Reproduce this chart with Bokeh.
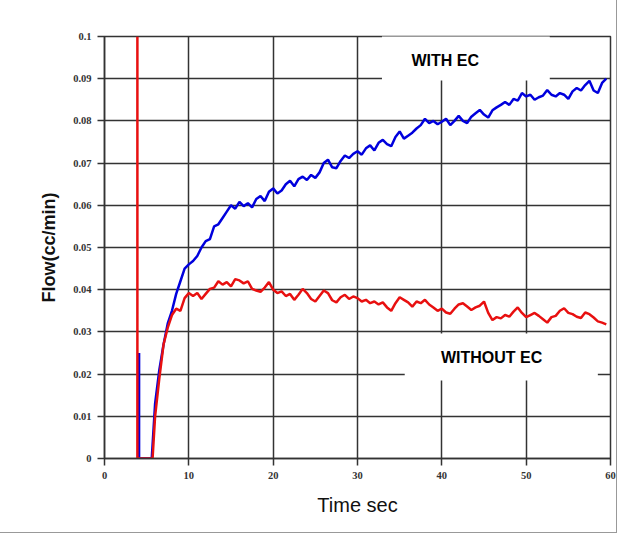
from bokeh.plotting import figure
from bokeh.models import FixedTicker, CustomJSTickFormatter, BoxAnnotation, Label
from bokeh.embed import file_html
from bokeh.resources import INLINE

# ---- data ----
x_ticks = [0, 10, 20, 30, 40, 50, 60]
y_ticks = [0, 0.01, 0.02, 0.03, 0.04, 0.05, 0.06, 0.07, 0.08, 0.09, 0.1]

times = [6.0, 6.5, 7.0, 7.5, 8.0, 8.5, 9.0, 9.5, 10.0, 10.5, 11.0, 11.5, 12.0, 12.5,
         13.0, 13.5, 14.0, 14.5, 15.0, 15.5, 16.0, 16.5, 17.0, 17.5, 18.0, 18.5,
         19.0, 19.5, 20.0, 20.5, 21.0, 21.5, 22.0, 22.5, 23.0, 23.5, 24.0, 24.5,
         25.0, 25.5, 26.0, 26.5, 27.0, 27.5, 28.0, 28.5, 29.0, 29.5, 30.0, 30.5,
         31.0, 31.5, 32.0, 32.5, 33.0, 33.5, 34.0, 34.5, 35.0, 35.5, 36.0, 36.5,
         37.0, 37.5, 38.0, 38.5, 39.0, 39.5, 40.0, 40.5, 41.0, 41.5, 42.0, 42.5,
         43.0, 43.5, 44.0, 44.5, 45.0, 45.5, 46.0, 46.5, 47.0, 47.5, 48.0, 48.5,
         49.0, 49.5, 50.0, 50.5, 51.0, 51.5, 52.0, 52.5, 53.0, 53.5, 54.0, 54.5,
         55.0, 55.5, 56.0, 56.5, 57.0, 57.5, 58.0, 58.5, 59.0, 59.5]

with_ec = [0.013, 0.021, 0.027, 0.032, 0.035, 0.039, 0.042, 0.045, 0.046, 0.0468,
           0.048, 0.050, 0.0515, 0.052, 0.055, 0.0555, 0.057, 0.0585, 0.060, 0.0592,
           0.0608, 0.0598, 0.0605, 0.0595, 0.0615, 0.0622, 0.0610, 0.0632, 0.0640, 0.0628,
           0.0635, 0.0650, 0.0658, 0.0645, 0.0662, 0.0668, 0.0660, 0.0672, 0.0665, 0.0678,
           0.0700, 0.0708, 0.0690, 0.0688, 0.0705, 0.0718, 0.0712, 0.0722, 0.0728, 0.0720,
           0.0735, 0.0742, 0.0730, 0.0748, 0.0755, 0.0745, 0.0740, 0.0762, 0.0775, 0.0758,
           0.0765, 0.0772, 0.0782, 0.0790, 0.0805, 0.0795, 0.0800, 0.0792, 0.0798, 0.0805,
           0.0790, 0.0800, 0.0812, 0.0800, 0.0795, 0.0810, 0.0818, 0.0826, 0.0815, 0.0808,
           0.0825, 0.0832, 0.0838, 0.0845, 0.0838, 0.0852, 0.0848, 0.0866, 0.0858, 0.0862,
           0.0850, 0.0856, 0.0860, 0.0873, 0.0862, 0.0858, 0.0866, 0.0862, 0.0852, 0.0870,
           0.0878, 0.0872, 0.0885, 0.0895, 0.0872, 0.0866, 0.0890, 0.0900]

without_ec = [0.010, 0.019, 0.027, 0.031, 0.034, 0.0355, 0.035, 0.038, 0.0392, 0.0385,
              0.0392, 0.0378, 0.0390, 0.0402, 0.0405, 0.0420, 0.0412, 0.0418, 0.0408, 0.0425,
              0.0422, 0.0415, 0.0420, 0.0402, 0.0398, 0.0395, 0.0405, 0.0418, 0.0400, 0.0392,
              0.0396, 0.0385, 0.0390, 0.0376, 0.0388, 0.0402, 0.0392, 0.0378, 0.0372, 0.0385,
              0.0398, 0.0392, 0.0375, 0.0370, 0.0382, 0.0388, 0.0378, 0.0384, 0.0380, 0.0372,
              0.0376, 0.0368, 0.0372, 0.0365, 0.0370, 0.0358, 0.0350, 0.0368, 0.0382, 0.0376,
              0.0370, 0.0360, 0.0372, 0.0368, 0.0376, 0.0365, 0.0358, 0.0350, 0.0355, 0.0346,
              0.0343, 0.0355, 0.0365, 0.0368, 0.0360, 0.0352, 0.0358, 0.0362, 0.0372, 0.0345,
              0.0328, 0.0335, 0.0332, 0.0340, 0.0336, 0.0348, 0.0358, 0.0345, 0.0335, 0.0340,
              0.0345, 0.0338, 0.0330, 0.0322, 0.0335, 0.0338, 0.0350, 0.0356, 0.0345, 0.0342,
              0.0336, 0.0333, 0.0346, 0.0342, 0.0334, 0.0325, 0.0322, 0.0318]

# start-up transients before the main traces
blue_start_t = [4.1, 4.1, 5.6]
blue_start_y = [0.025, 0.0, 0.0]
red_start_t = [3.9, 3.9, 5.7]
red_start_y = [0.1, 0.0, 0.0]

assert len(times) == len(with_ec) == len(without_ec)

p = figure(width=616, height=532, x_range=(0, 60), y_range=(0, 0.1),
           output_backend="svg", toolbar_location=None,
           min_border_left=104, min_border_right=6, min_border_top=36, min_border_bottom=74)
p.styles = {"outline": "1px solid #999"}
p.background_fill_color = "white"
p.border_fill_color = "white"
p.outline_line_color = "#333333"
p.outline_line_width = 1.5

grid_col = "#333333"
p.xgrid.ticker = FixedTicker(ticks=x_ticks)
p.ygrid.ticker = FixedTicker(ticks=y_ticks)
for g in (p.xgrid, p.ygrid):
    g.grid_line_color = grid_col
    g.grid_line_width = 1.5
    g.grid_line_alpha = 1.0

p.xaxis.ticker = FixedTicker(ticks=x_ticks)
p.yaxis.ticker = FixedTicker(ticks=y_ticks)
p.yaxis.formatter = CustomJSTickFormatter(code="return String(Math.round(tick*100)/100);")
for ax in (p.xaxis, p.yaxis):
    ax.axis_line_color = grid_col
    ax.axis_line_width = 1.5
    ax.major_tick_line_color = grid_col
    ax.major_tick_line_width = 1.5
    ax.major_tick_out = 7
    ax.major_tick_in = 0
    ax.minor_tick_line_color = None
    ax.major_label_text_font = "Liberation Serif"
    ax.major_label_text_font_size = "10.5px"
    ax.major_label_text_color = "#333333"
    ax.major_label_text_font_style = "bold"

p.yaxis.axis_label = "Flow(cc/min)"
p.yaxis.axis_label_text_font = "Liberation Sans"
p.yaxis.axis_label_text_font_size = "18px"
p.yaxis.axis_label_text_font_style = "bold"
p.yaxis.axis_label_text_color = "#111111"
p.yaxis.axis_label_standoff = 11
p.yaxis.major_label_standoff = 6

p.xaxis.axis_label = "Time sec"
p.xaxis.axis_label_text_font = "Liberation Sans"
p.xaxis.axis_label_text_font_size = "20px"
p.xaxis.axis_label_text_font_style = "normal"
p.xaxis.axis_label_text_color = "#111111"
p.xaxis.axis_label_standoff = 12
p.xaxis.major_label_standoff = 6

# white label boxes
p.add_layout(BoxAnnotation(left=32.9, right=52.8, bottom=0.0896, top=0.102,
                           fill_color="white", fill_alpha=1.0, line_color=None))
p.add_layout(BoxAnnotation(left=35.6, right=58.5, bottom=0.0185, top=0.0296,
                           fill_color="white", fill_alpha=1.0, line_color=None))

blue = "#0000dd"
red = "#e81010"
p.line(blue_start_t + times, blue_start_y + with_ec, line_color=blue, line_width=2.5)
p.line(red_start_t + times, red_start_y + without_ec, line_color=red, line_width=2.5)

p.add_layout(Label(x=40.4, y=0.0943, text="WITH EC", text_font="Liberation Sans",
                   text_font_size="16px", text_font_style="bold", text_color="black",
                   text_align="center", text_baseline="middle"))
p.add_layout(Label(x=45.9, y=0.0239, text="WITHOUT EC", text_font="Liberation Sans",
                   text_font_size="16px", text_font_style="bold", text_color="black",
                   text_align="center", text_baseline="middle"))

open("out.html", "w").write(file_html(p, INLINE))
